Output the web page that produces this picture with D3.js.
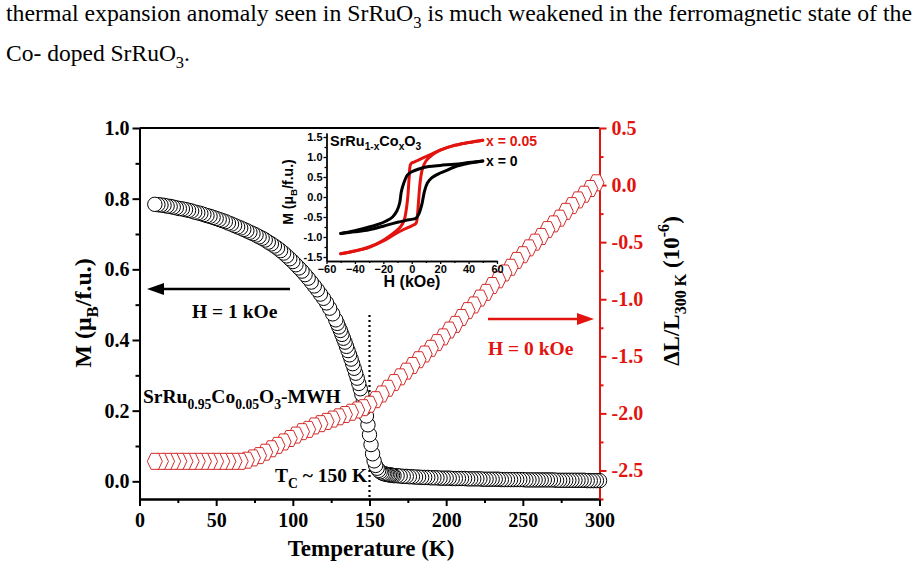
<!DOCTYPE html>
<html>
<head>
<meta charset="utf-8">
<script src="https://cdn.jsdelivr.net/npm/d3@7"></script>
<style>
  html, body { margin: 0; padding: 0; background: #fff; }
  svg { display: block; }
</style>
</head>
<body>
<svg id="chart" width="918" height="568"></svg>
<script>
// M(T) measured at H = 1 kOe (K, muB/f.u.)
const tempM = [
  10, 12, 14, 16, 18, 20, 22, 24, 26, 28, 30, 32, 34, 36, 38, 40, 42, 44, 46, 48,
  50, 52, 54, 56, 58, 60, 62, 64, 66, 68, 70, 72, 74, 76, 78, 80, 82, 84, 86, 88,
  90, 92, 94, 96, 98, 100, 102, 104, 106, 108, 110, 112, 114, 116, 118, 120, 122, 124, 126, 128,
  129, 130, 131, 132, 133, 134, 135, 136, 137, 138, 139, 140, 141, 142, 143, 144, 145, 146, 147,
  148, 149, 150, 151, 152, 153, 154, 155, 156, 157, 158, 159, 160, 161, 162, 163, 164, 165,
  166, 168, 170, 172, 174, 176, 178, 180, 182, 184, 186, 188, 190, 192, 194, 196, 198, 200,
  202, 204, 206, 208, 210, 212, 214, 216, 218, 220, 222, 224, 226, 228, 230, 232, 234, 236,
  238, 240, 242, 244, 246, 248, 250, 252, 254, 256, 258, 260, 262, 264, 266, 268, 270, 272,
  274, 276, 278, 280, 282, 284, 286, 288, 290, 292, 294, 296, 298, 300
];
const magM = [
  0.784, 0.783, 0.782, 0.781, 0.779, 0.778, 0.776, 0.774, 0.772, 0.771, 0.769, 0.767, 0.765, 0.762, 0.760, 0.758, 0.755, 0.752, 0.750, 0.747,
  0.744, 0.741, 0.738, 0.735, 0.731, 0.728, 0.724, 0.720, 0.717, 0.713, 0.709, 0.705, 0.701, 0.697, 0.692, 0.688, 0.683, 0.677, 0.672, 0.666,
  0.660, 0.653, 0.646, 0.638, 0.630, 0.622, 0.613, 0.604, 0.595, 0.585, 0.575, 0.564, 0.553, 0.542, 0.530, 0.518, 0.505, 0.490, 0.474, 0.457,
  0.447, 0.437, 0.427, 0.416, 0.405, 0.394, 0.382, 0.370, 0.358, 0.346, 0.333, 0.320, 0.306, 0.292, 0.277, 0.262, 0.246, 0.228, 0.208,
  0.185, 0.160, 0.132, 0.104, 0.078, 0.058, 0.045, 0.037, 0.031, 0.027, 0.024, 0.022, 0.021, 0.020, 0.019, 0.018, 0.018, 0.017,
  0.016, 0.016, 0.015, 0.014, 0.014, 0.013, 0.013, 0.012, 0.012, 0.011, 0.011, 0.011, 0.010, 0.010, 0.010, 0.009, 0.009, 0.009,
  0.009, 0.008, 0.008, 0.008, 0.008, 0.008, 0.007, 0.007, 0.007, 0.007, 0.007, 0.006, 0.006, 0.006, 0.006, 0.006, 0.006, 0.005,
  0.005, 0.005, 0.005, 0.005, 0.005, 0.005, 0.005, 0.004, 0.004, 0.004, 0.004, 0.004, 0.004, 0.004, 0.004, 0.004, 0.004, 0.003,
  0.003, 0.003, 0.003, 0.003, 0.003, 0.003, 0.003, 0.003, 0.003, 0.002, 0.002, 0.002, 0.002, 0.002
];

// thermal expansion at H = 0 kOe (K, 1e-6)
const tempL = [
  10, 14, 18, 22, 26, 30, 34, 38, 42, 46, 50, 54, 58, 62, 66, 70, 74, 78, 82, 86,
  90, 94, 98, 102, 106, 110, 114, 118, 122, 126, 130, 134, 138, 142, 146, 150, 154, 158, 162, 166,
  170, 174, 178, 182, 186, 190, 194, 198, 202, 206, 210, 214, 218, 222, 226, 230, 234, 238, 242, 246,
  250, 254, 258, 262, 266, 270, 274, 278, 282, 286, 290, 294, 298
];
const dL = [
  -2.42, -2.42, -2.42, -2.42, -2.42, -2.42, -2.42, -2.42, -2.42, -2.42, -2.42, -2.42, -2.42, -2.42, -2.42, -2.41, -2.39, -2.37, -2.34, -2.31,
  -2.28, -2.25, -2.22, -2.19, -2.16, -2.14, -2.11, -2.09, -2.07, -2.05, -2.03, -2.01, -1.99, -1.97, -1.95, -1.92, -1.88, -1.83, -1.78, -1.73,
  -1.68, -1.63, -1.58, -1.53, -1.48, -1.43, -1.38, -1.33, -1.27, -1.22, -1.16, -1.10, -1.05, -0.99, -0.94, -0.88, -0.83, -0.77, -0.72, -0.66,
  -0.61, -0.55, -0.50, -0.45, -0.39, -0.34, -0.29, -0.23, -0.18, -0.13, -0.08, -0.03, 0.02
];

// inset: M(H) loops, x = 0.05 (red) and x = 0 (black)
const hRedDown = [50, 40, 30, 20, 15, 10, 5, 2, 0, -1, -1.8, -2.8, -4, -5.5, -8, -12, -20, -30, -40, -50];
const mRedDown = [1.42, 1.36, 1.29, 1.17, 1.09, 1.01, 0.93, 0.88, 0.85, 0.8, 0.5, 0.0, -0.35, -0.6, -0.75, -0.88, -1.08, -1.25, -1.35, -1.42];
const hRedUp = [-50, -40, -30, -20, -12, -5, 0, 3, 4, 5, 6, 7.5, 10, 15, 20, 30, 40, 50];
const mRedUp = [-1.42, -1.35, -1.26, -1.1, -0.93, -0.8, -0.72, -0.66, -0.45, 0.0, 0.4, 0.7, 0.9, 1.07, 1.17, 1.29, 1.36, 1.42];
const hBlackDown = [50, 40, 30, 20, 12, 5, 0, -3, -4.5, -6.5, -7.5, -8.5, -10.5, -13.5, -18, -25, -30, -40, -50];
const mBlackDown = [0.9, 0.86, 0.82, 0.79, 0.76, 0.7, 0.63, 0.55, 0.45, 0.25, 0.1, -0.15, -0.35, -0.5, -0.6, -0.7, -0.75, -0.84, -0.91];
const hBlackUp = [-50, -40, -30, -20, -10, -2, 3, 5, 7, 9, 11, 14, 20, 25, 30, 40, 50];
const mBlackUp = [-0.91, -0.87, -0.82, -0.73, -0.63, -0.57, -0.53, -0.42, -0.2, 0.15, 0.35, 0.48, 0.6, 0.67, 0.75, 0.84, 0.9];

// ticks
const tempTicks = [0, 50, 100, 150, 200, 250, 300];
const tempMinor = [25, 75, 125, 175, 225, 275];
const magTicks = [0, 0.2, 0.4, 0.6, 0.8, 1.0];
const magMinor = [0.1, 0.3, 0.5, 0.7, 0.9];
const dLTicks = [0.5, 0, -0.5, -1.0, -1.5, -2.0, -2.5];
const dLMinor = [0.25, -0.25, -0.75, -1.25, -1.75, -2.25, -2.75];
const fieldTicks = [-60, -40, -20, 0, 20, 40, 60];
const fieldMinor = [-50, -30, -10, 10, 30, 50];
const loopTicks = [-1.5, -1.0, -0.5, 0, 0.5, 1.0, 1.5];
const loopMinor = [-1.25, -0.75, -0.25, 0.25, 0.75, 1.25];

const red = '#e3140f';
const serif = "'Liberation Serif', 'Times New Roman', serif";
const sans = "'Liberation Sans', Arial, sans-serif";

const svg = d3.select('#chart');

// text with sub / superscript pieces
function richText(sel, parts, size) {
  let shift = 0;
  parts.forEach(([str, kind]) => {
    const target = kind === 'sub' ? size * 0.3 : kind === 'sup' ? -size * 0.42 : 0;
    sel.append('tspan')
      .attr('dy', target - shift)
      .attr('font-size', kind ? size * 0.7 : size)
      .text(str);
    shift = target;
  });
  return sel;
}

// paragraph above the figure
const para = svg.append('g').attr('font-family', serif).attr('fill', '#000');
richText(para.append('text').attr('x', 6).attr('y', 21)
  .attr('textLength', 906).attr('lengthAdjust', 'spacingAndGlyphs'),
[['thermal expansion anomaly seen in SrRuO'], ['3', 'sub'], [' is much weakened in the ferromagnetic state of the']], 23);
richText(para.append('text').attr('x', 6).attr('y', 61)
  .attr('textLength', 184).attr('lengthAdjust', 'spacingAndGlyphs'),
[['Co- doped SrRuO'], ['3', 'sub'], ['.']], 23);

// main scales
const x = d3.scaleLinear().domain([0, 300]).range([139.5, 599.5]);
const yM = d3.scaleLinear().domain([-0.05, 1.0]).range([499, 128]);
const yL = d3.scaleLinear().domain([-2.75, 0.5]).range([499, 128]);

const styleAxis = (g, color, size) => {
  g.attr('font-family', serif).attr('font-size', size).attr('font-weight', 'bold');
  g.selectAll('path, line').attr('stroke', color).attr('stroke-width', 2);
  g.selectAll('text').attr('fill', color);
};

// minor ticks first
svg.append('g').attr('transform', 'translate(0,499)')
  .call(d3.axisBottom(x).tickValues(tempMinor).tickSize(4).tickFormat('').tickSizeOuter(0))
  .call(g => styleAxis(g, '#000', 20));
svg.append('g').attr('transform', 'translate(139.5,0)')
  .call(d3.axisLeft(yM).tickValues(magMinor).tickSize(4).tickFormat('').tickSizeOuter(0))
  .call(g => styleAxis(g, '#000', 20));
svg.append('g').attr('transform', 'translate(599.5,0)')
  .call(d3.axisRight(yL).tickValues(dLMinor).tickSize(4).tickFormat('').tickSizeOuter(0))
  .call(g => styleAxis(g, red, 20));

svg.append('line')
  .attr('x1', 139.5).attr('x2', 599.5).attr('y1', 128).attr('y2', 128)
  .attr('stroke', '#000').attr('stroke-width', 2);

svg.append('g').attr('transform', 'translate(0,499)')
  .call(d3.axisBottom(x).tickValues(tempTicks).tickSize(7).tickPadding(7).tickSizeOuter(0))
  .call(g => styleAxis(g, '#000', 20));
svg.append('g').attr('transform', 'translate(139.5,0)')
  .call(d3.axisLeft(yM).tickValues(magTicks).tickSize(7).tickPadding(3)
    .tickFormat(d => d.toFixed(1)).tickSizeOuter(0))
  .call(g => styleAxis(g, '#000', 20));
svg.append('g').attr('transform', 'translate(599.5,0)')
  .call(d3.axisRight(yL).tickValues(dLTicks).tickSize(7).tickPadding(5)
    .tickFormat(d => d.toFixed(1)).tickSizeOuter(0))
  .call(g => styleAxis(g, red, 20));

// axis titles
svg.append('text')
  .attr('x', 371).attr('y', 556)
  .attr('text-anchor', 'middle')
  .attr('font-family', serif).attr('font-weight', 'bold').attr('font-size', 23)
  .text('Temperature (K)');

richText(svg.append('text')
  .attr('transform', 'translate(91,313) rotate(-90)')
  .attr('text-anchor', 'middle')
  .attr('font-family', serif).attr('font-weight', 'bold'),
[['M (\u03bc'], ['B', 'sub'], ['/f.u.)']], 24);

richText(svg.append('text')
  .attr('transform', 'translate(679,291) rotate(-90)')
  .attr('text-anchor', 'middle')
  .attr('font-family', serif).attr('font-weight', 'bold'),
[['\u0394L/L'], ['300 K', 'sub'], [' (10'], ['-6', 'sup'], [')']], 23);

// dotted Tc line
svg.append('line')
  .attr('x1', x(150)).attr('x2', x(150)).attr('y1', 315).attr('y2', 498)
  .attr('stroke', '#000').attr('stroke-width', 2.2).attr('stroke-dasharray', '2,3');

// M(T) circles, high T drawn first
const mPoints = d3.zip(tempM, magM).reverse();
svg.append('g')
  .selectAll('circle')
  .data(mPoints)
  .join('circle')
  .attr('cx', d => x(d[0]))
  .attr('cy', d => yM(d[1]))
  .attr('r', 7.2)
  .attr('fill', '#fff')
  .attr('stroke', '#000')
  .attr('stroke-width', 1);

// dL/L hexagons
const hexW = 15;
const hexH = 16;
const hexagon = d3.line()([
  [-hexW / 2, 0], [-hexW / 4, -hexH / 2], [hexW / 4, -hexH / 2],
  [hexW / 2, 0], [hexW / 4, hexH / 2], [-hexW / 4, hexH / 2]
]) + 'Z';
const lPoints = d3.zip(tempL, dL).reverse();
svg.append('g')
  .selectAll('path')
  .data(lPoints)
  .join('path')
  .attr('d', hexagon)
  .attr('transform', d => `translate(${x(d[0])},${yL(d[1])})`)
  .attr('fill', '#fff')
  .attr('stroke', '#d42a2a')
  .attr('stroke-width', 1);

// annotations
const note = (tx, ty, parts, color) => richText(svg.append('text')
  .attr('x', tx).attr('y', ty)
  .attr('font-family', serif).attr('font-weight', 'bold')
  .attr('fill', color), parts, 19.5);

note(192, 318, [['H = 1 kOe']], '#000');
note(488, 355, [['H = 0 kOe']], red);
note(143, 403, [['SrRu'], ['0.95', 'sub'], ['Co'], ['0.05', 'sub'], ['O'], ['3', 'sub'], ['-MWH']], '#000');
note(275, 482, [['T'], ['C', 'sub'], [' ~ 150 K']], '#000');

svg.append('line')
  .attr('x1', 290).attr('x2', 158).attr('y1', 289).attr('y2', 289)
  .attr('stroke', '#000').attr('stroke-width', 2.5);
svg.append('path')
  .attr('d', 'M147,289 L164,283 L164,295 Z')
  .attr('fill', '#000');
svg.append('line')
  .attr('x1', 488).attr('x2', 582).attr('y1', 319).attr('y2', 319)
  .attr('stroke', red).attr('stroke-width', 2.5);
svg.append('path')
  .attr('d', 'M594,319 L577,313 L577,325 Z')
  .attr('fill', red);

// inset
const hx = d3.scaleLinear().domain([-60, 60]).range([326.5, 497]);
const hy = d3.scaleLinear().domain([-1.6, 1.6]).range([261, 133]);
const inset = svg.append('g');

const styleInset = g => {
  g.attr('font-family', sans).attr('font-size', 11).attr('font-weight', 'bold');
  g.selectAll('path, line').attr('stroke', '#000').attr('stroke-width', 1.3);
  g.selectAll('text').attr('fill', '#000');
};
inset.append('g').attr('transform', 'translate(0,261)')
  .call(d3.axisBottom(hx).tickValues(fieldMinor).tickSize(2).tickFormat('').tickSizeOuter(0))
  .call(styleInset);
inset.append('g').attr('transform', 'translate(326.5,0)')
  .call(d3.axisLeft(hy).tickValues(loopMinor).tickSize(2).tickFormat('').tickSizeOuter(0))
  .call(styleInset);
inset.append('g').attr('transform', 'translate(0,261)')
  .call(d3.axisBottom(hx).tickValues(fieldTicks).tickSize(3).tickPadding(1).tickSizeOuter(0))
  .call(styleInset);
inset.append('g').attr('transform', 'translate(326.5,0)')
  .call(d3.axisLeft(hy).tickValues(loopTicks).tickSize(3).tickPadding(1)
    .tickFormat(d => d.toFixed(1)).tickSizeOuter(0))
  .call(styleInset);

const loopLine = d3.line()
  .x(d => hx(d[0]))
  .y(d => hy(d[1]))
  .curve(d3.curveCatmullRom.alpha(0.5));

[[hRedDown, mRedDown, red], [hRedUp, mRedUp, red],
  [hBlackDown, mBlackDown, '#000'], [hBlackUp, mBlackUp, '#000']]
  .forEach(([h, m, c]) => {
    inset.append('path')
      .attr('d', loopLine(d3.zip(h, m)))
      .attr('fill', 'none')
      .attr('stroke', c)
      .attr('stroke-width', 3)
      .attr('stroke-linecap', 'round');
  });

const insetText = (tx, ty, parts, color, size) => richText(inset.append('text')
  .attr('x', tx).attr('y', ty)
  .attr('font-family', sans).attr('font-weight', 'bold')
  .attr('fill', color), parts, size);

insetText(330, 146, [['SrRu'], ['1-x', 'sub'], ['Co'], ['x', 'sub'], ['O'], ['3', 'sub']], '#000', 14.5);
insetText(486, 146, [['x = 0.05']], red, 14);
insetText(486, 166, [['x = 0']], '#000', 14);
insetText(412, 287, [['H (kOe)']], '#000', 16).attr('text-anchor', 'middle');
richText(inset.append('text')
  .attr('transform', 'translate(293,192) rotate(-90)')
  .attr('text-anchor', 'middle')
  .attr('font-family', sans).attr('font-weight', 'bold'),
[['M ('], ['\u03bc'], ['B', 'sub'], ['/f.u.)']], 14);
</script>
</body>
</html>
